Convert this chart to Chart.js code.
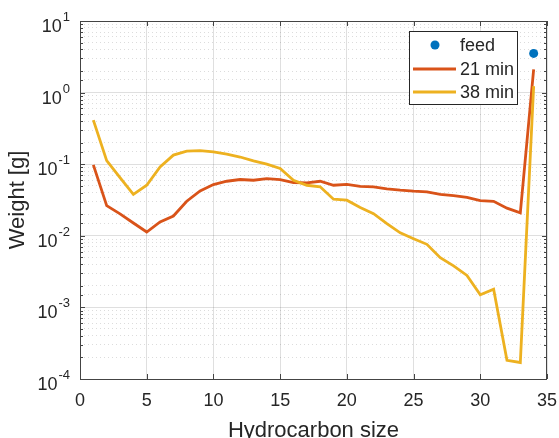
<!DOCTYPE html>
<html>
<head>
<meta charset="utf-8">
<script src="https://cdn.jsdelivr.net/npm/chart.js@4/dist/chart.umd.min.js"></script>
<style>
  html, body { margin: 0; padding: 0; background: #fff; }
  #wrap { width: 559px; height: 438px; }
</style>
</head>
<body>
<div id="wrap"><canvas id="chart" width="559" height="438"></canvas></div>
<script>
// values
const sizes = [1, 2, 3, 4, 5, 6, 7, 8, 9, 10, 11, 12, 13, 14, 15, 16, 17,
  18, 19, 20, 21, 22, 23, 24, 25, 26, 27, 28, 29, 30, 31, 32, 33, 34];
const weight21 = [0.098, 0.0264, 0.0202, 0.0151, 0.0113, 0.0156, 0.0189, 0.0304,
  0.0424, 0.052, 0.0578, 0.0611, 0.0597, 0.063, 0.061, 0.0555, 0.055, 0.0578,
  0.0508, 0.0524, 0.0491, 0.0483, 0.0452, 0.0433, 0.042, 0.0412, 0.038, 0.0365,
  0.0345, 0.031, 0.0303, 0.0243, 0.0209, 2.11];
const weight38 = [0.412, 0.112, 0.065, 0.038, 0.0508, 0.0916, 0.134, 0.152,
  0.155, 0.149, 0.138, 0.126, 0.111, 0.1, 0.087, 0.0597, 0.0508, 0.0483,
  0.0324, 0.0314, 0.0248, 0.0204, 0.0148, 0.011, 0.0091, 0.0076, 0.00495, 0.0038,
  0.0028, 0.0015, 0.0018, 0.000182, 0.00017, 1.23];
const feedSize = [34];
const feedWeight = [3.53];
const xTicks = [0, 5, 10, 15, 20, 25, 30, 35];
const yExponents = [-4, -3, -2, -1, 0, 1];

const FONT = '"Liberation Sans", Arial, Helvetica, sans-serif';
const TEXT = '#262626';
const GRID = 'rgba(38,38,38,0.15)';

const toPoints = (xs, ys) => xs.map((x, i) => ({ x, y: ys[i] }));
const isMajor = (v) => Math.abs(Math.log10(v) - Math.round(Math.log10(v))) < 1e-6;

// axis labels, ticks, box and legend, MATLAB style
const decor = {
  id: "decor",
  afterDraw(chart) {
    const { ctx, chartArea: a, scales } = chart;
    const xs = scales.x, ys = scales.y;
    ctx.save();

    // box
    ctx.strokeStyle = '#444';
    ctx.lineWidth = 1;
    ctx.strokeRect(a.left + 0.5, a.top + 0.5, a.right - a.left - 1, a.bottom - a.top);

    // tick marks
    ctx.beginPath();
    xTicks.forEach((v) => {
      const px = Math.round(xs.getPixelForValue(v)) + 0.5;
      ctx.moveTo(px, a.bottom); ctx.lineTo(px, a.bottom - 5);
      ctx.moveTo(px, a.top); ctx.lineTo(px, a.top + 5);
    });
    ys.ticks.forEach((t) => {
      const py = Math.round(ys.getPixelForValue(t.value)) + 0.5;
      const len = isMajor(t.value) ? 5 : 3;
      ctx.moveTo(a.left, py); ctx.lineTo(a.left + len, py);
      ctx.moveTo(a.right, py); ctx.lineTo(a.right - len, py);
    });
    ctx.stroke();

    // x tick labels
    ctx.fillStyle = TEXT;
    ctx.font = '18px ' + FONT;
    ctx.textAlign = 'center';
    ctx.textBaseline = 'alphabetic';
    xTicks.forEach((v) => {
      ctx.fillText(String(v), xs.getPixelForValue(v), 406);
    });

    // y tick labels 10^n
    yExponents.forEach((e) => {
      const py = ys.getPixelForValue(Math.pow(10, e));
      ctx.font = '13px ' + FONT;
      const expW = ctx.measureText(String(e)).width;
      ctx.textAlign = 'right';
      ctx.fillText(String(e), 70, py);
      ctx.font = '18px ' + FONT;
      ctx.fillText('10', 70 - expW - 1, py + 11);
    });

    // axis titles
    ctx.font = '22px ' + FONT;
    ctx.textAlign = 'center';
    ctx.fillText('Hydrocarbon size', (a.left + a.right) / 2, 437);
    ctx.save();
    ctx.translate(24, (a.top + a.bottom) / 2);
    ctx.rotate(-Math.PI / 2);
    ctx.fillText('Weight [g]', 0, 0);
    ctx.restore();

    // legend
    const lx = 409.5, ly = 31.5, lw = 108, lh = 73;
    ctx.fillStyle = '#fff';
    ctx.fillRect(lx, ly, lw, lh);
    ctx.strokeStyle = '#262626';
    ctx.strokeRect(lx, ly, lw, lh);
    const rows = [
      { label: 'feed', color: '#0072BD', dot: true, y: 45 },
      { label: '21 min', color: '#D95319', dot: false, y: 69 },
      { label: '38 min', color: '#EDB120', dot: false, y: 92 },
    ];
    ctx.font = '18px ' + FONT;
    ctx.textAlign = 'left';
    ctx.textBaseline = 'middle';
    rows.forEach((r) => {
      if (r.dot) {
        ctx.fillStyle = r.color;
        ctx.beginPath();
        ctx.arc(435, r.y, 4.5, 0, Math.PI * 2);
        ctx.fill();
      } else {
        ctx.strokeStyle = r.color;
        ctx.lineWidth = 2.8;
        ctx.beginPath();
        ctx.moveTo(413, r.y); ctx.lineTo(456, r.y);
        ctx.stroke();
      }
      ctx.fillStyle = TEXT;
      ctx.fillText(r.label, 460, r.y + 1);
    });
    ctx.restore();
  },
};

new Chart(document.getElementById("chart"), {
  type: "line",
  data: {
    datasets: [
      {
        label: "feed",
        data: toPoints(feedSize, feedWeight),
        showLine: false,
        pointRadius: 4.5,
        pointBackgroundColor: "#0072BD",
        pointBorderWidth: 0,
        order: 3,
      },
      {
        label: "21 min",
        data: toPoints(sizes, weight21),
        borderColor: "#D95319",
        borderWidth: 2.8,
        pointRadius: 0,
        tension: 0,
        order: 2,
      },
      {
        label: "38 min",
        data: toPoints(sizes, weight38),
        borderColor: "#EDB120",
        borderWidth: 2.8,
        pointRadius: 0,
        tension: 0,
        order: 1,
      },
    ],
  },
  options: {
    responsive: false,
    animation: false,
    devicePixelRatio: 1,
    layout: { padding: { top: 21, right: 12, left: 0, bottom: 0 } },
    plugins: { legend: { display: false }, tooltip: { enabled: false } },
    scales: {
      x: {
        type: "linear",
        min: 0,
        max: 35,
        ticks: { display: false, stepSize: 5 },
        grid: { color: GRID, lineWidth: 1, drawTicks: false },
        border: { display: false },
        afterFit: (s) => { s.height = 59; },
      },
      y: {
        type: "logarithmic",
        min: 1e-4,
        max: 10,
        ticks: { display: false, autoSkip: false },
        grid: {
          drawTicks: false,
          color: (c) => (c.tick && isMajor(c.tick.value) ? GRID : 'rgba(38,38,38,0.16)'),
          lineWidth: 1,
        },
        border: {
          display: false,
          dash: (c) => (c.tick && isMajor(c.tick.value) ? [] : [1, 3]),
        },
        afterFit: (s) => { s.width = 80; },
      },
    },
  },
  plugins: [decor],
});
</script>
</body>
</html>
